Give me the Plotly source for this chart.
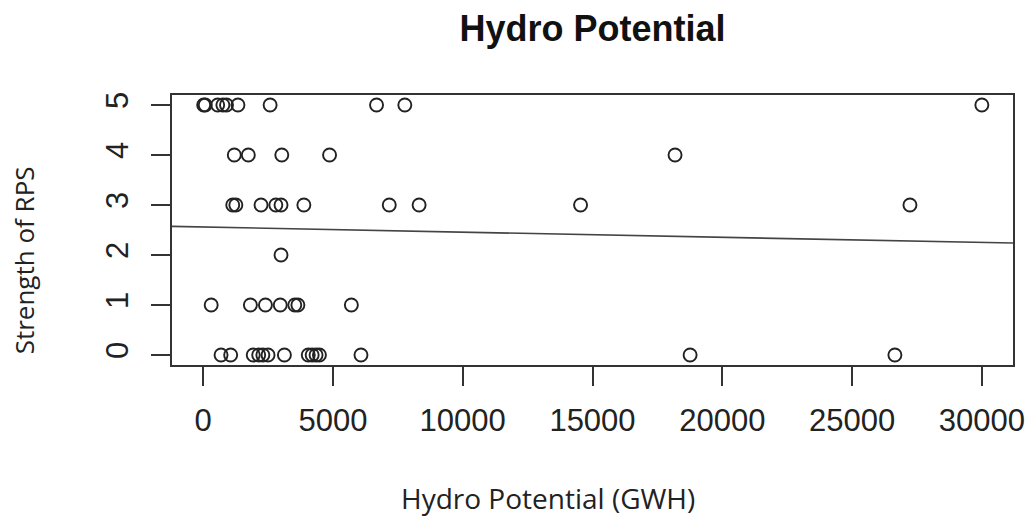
import plotly.graph_objects as go

# Data: hydro potential (GWH) per RPS strength
hydro_rps5 = [20, 80, 560, 760, 900, 1340, 2580, 6680, 7770, 30000]
hydro_rps4 = [1200, 1740, 3030, 4870, 18180]
hydro_rps3 = [1140, 1260, 2230, 2800, 3000, 3880, 7170, 8320, 14540, 27230]
hydro_rps2 = [3000]
hydro_rps1 = [310, 1820, 2400, 2970, 3530, 3650, 5710]
hydro_rps0 = [690, 1060, 1930, 2140, 2300, 2500, 3130, 4050, 4200, 4350, 4480, 6080, 18760, 26650]

rps_levels = [5, 4, 3, 2, 1, 0]
groups = [hydro_rps5, hydro_rps4, hydro_rps3, hydro_rps2, hydro_rps1, hydro_rps0]

# fitted line
fit_intercept = 2.56
fit_slope = -1.03e-5

x_ticks = [0, 5000, 10000, 15000, 20000, 25000, 30000]
y_ticks = [0, 1, 2, 3, 4, 5]
x_range = [-1200, 31200]
y_range = [-0.2, 5.2]

xs, ys = [], []
for lvl, g in zip(rps_levels, groups):
    xs.extend(g)
    ys.extend([lvl] * len(g))

fig = go.Figure()
fig.add_trace(go.Scatter(
    x=x_range,
    y=[fit_intercept + fit_slope * v for v in x_range],
    mode="lines",
    line=dict(color="#444444", width=1.6),
    hoverinfo="skip",
    showlegend=False,
))
fig.add_trace(go.Scatter(
    x=xs, y=ys, mode="markers",
    marker=dict(symbol="circle-open", size=13, color="#222222",
                line=dict(width=1.9, color="#222222")),
    showlegend=False,
))

axis_common = dict(
    showgrid=False, zeroline=False, showline=True, mirror=True,
    linecolor="#333333", linewidth=2, automargin=False,
    ticks="outside", ticklen=19, tickwidth=2, tickcolor="#333333",
    tickfont=dict(family="Liberation Sans, Arial, sans-serif", size=31, color="#222222"),
)

L, R, T, B = 172, 15, 95, 153
W, H = 1028, 518
plot_w = W - L - R
plot_h = H - T - B

# x-axis title centre in pixels (from the picture)
xt_px, xt_py = 548, 498

fig.update_layout(
    width=W, height=H,
    margin=dict(l=L, r=R, t=T, b=B),
    paper_bgcolor="white", plot_bgcolor="white",
    title=dict(
        text="<b>Hydro Potential</b>",
        font=dict(family="Liberation Sans, Arial, sans-serif", size=36, color="#111111"),
        x=0.5, xref="paper", xanchor="center",
        y=1 - 28 / H, yref="container", yanchor="middle",
    ),
    xaxis=dict(range=x_range, tickvals=x_ticks, ticktext=[str(v) for v in x_ticks],
               ticklabelstandoff=8, **axis_common),
    yaxis=dict(range=y_range, tickvals=y_ticks, ticktext=[str(v) for v in y_ticks],
               tickangle=-90, ticklabelstandoff=11,
               title=dict(text="Strength of RPS" + "&nbsp;" * 9,
                          font=dict(family="Open Sans", size=26, color="#222222"),
                          standoff=57),
               **axis_common),
    annotations=[
        dict(text="Hydro Potential (GWH)",
             x=(xt_px - L) / plot_w, y=-(xt_py - T - plot_h) / plot_h,
             xref="paper", yref="paper",
             showarrow=False, font=dict(family="Open Sans", size=28, color="#222222"),
             xanchor="center", yanchor="middle"),
    ],
)

fig.write_html("out.html")
